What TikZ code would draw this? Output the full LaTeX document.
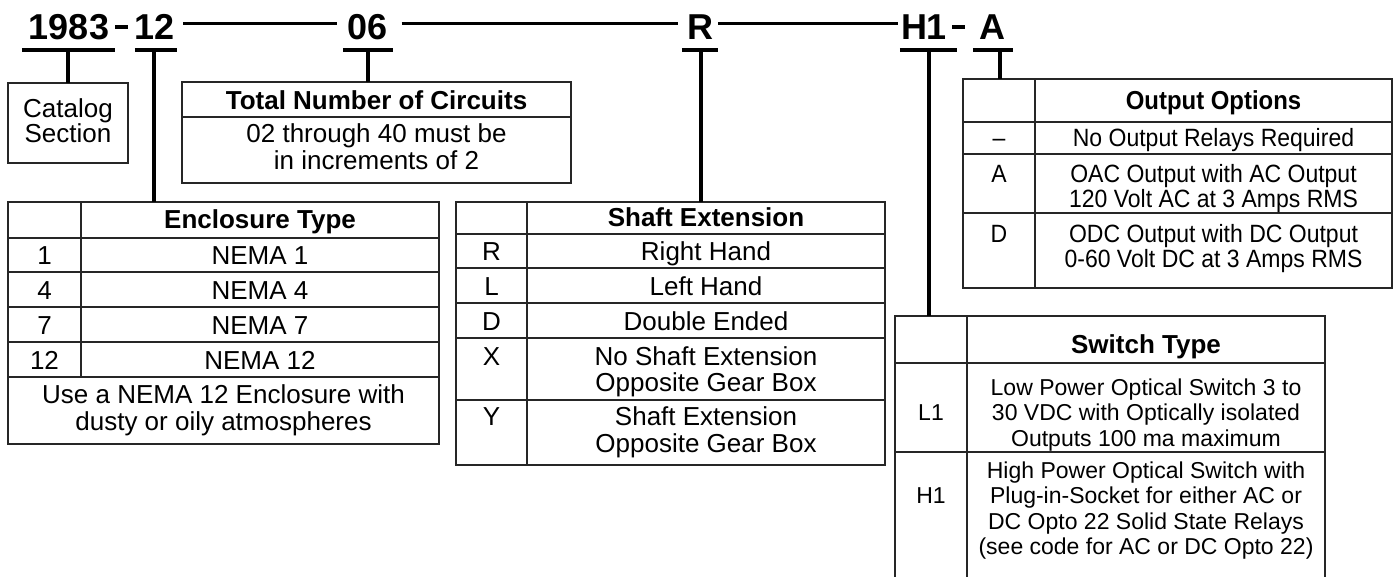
\documentclass[tikz,border=0pt]{standalone}
\usepackage{fontspec}
\setmainfont{Liberation Sans}
\newfontfamily\condfont[FakeStretch=0.92]{Liberation Sans}
\newcommand\mlines[1]{\vtop{\lineskiplimit=-100pt\relax\lineskip=0pt\relax\halign{\hfil##\hfil\cr#1\crcr}}}
\begin{document}
\begin{tikzpicture}[x=1pt,y=-1pt,
  code/.style={font=\fontsize{36}{36}\selectfont\bfseries, inner sep=0pt, anchor=base, text height=26pt, text depth=0pt},
  hline/.style={line width=3pt},
  hyph/.style={line width=3.5pt},
  barline/.style={line width=4pt},
  vline/.style={line width=4pt},
  tbl/.style={draw=black!85, line width=1.2pt, inner sep=0pt, outer sep=0pt, anchor=north west},
  grid/.style={draw=black!85, line width=1.1pt},
  txt/.style={inner sep=0pt, anchor=base, font=\fontsize{26}{27}\selectfont},
  hdr/.style={inner sep=0pt, anchor=base, font=\fontsize{26}{27}\selectfont\bfseries},
  otxt/.style={inner sep=0pt, anchor=base, font=\condfont\fontsize{25}{24.5}\selectfont},
  ohdr/.style={inner sep=0pt, anchor=base, font=\condfont\bfseries\fontsize{26}{26}\selectfont},
  stxt/.style={inner sep=0pt, anchor=base, font=\fontsize{23}{25.5}\selectfont},
]
\useasboundingbox (0,0) rectangle (1396,577);
\clip (0,0) rectangle (1396,577);

% ---------- header codes ----------
\node[code] (n1983) at (69,40) {1983};
\node[code] (n12) at (155,40) {12};
\node[code] (n06) at (367.5,40) {06};
\node[code] (nR) at (700,40) {R};
\node[code] (nH1) at (924,40) {H1};
\node[code] (nA) at (992,40) {A};

\draw[hyph] ([xshift=6pt]n1983.east) -- ([xshift=-7pt]n12.west);
\draw[hline] ([xshift=8pt,yshift=3pt]n12.east) -- ([xshift=-10pt,yshift=3pt]n06.west);
\draw[hline] ([xshift=14pt,yshift=3pt]n06.east) -- ([xshift=-9pt,yshift=3pt]nR.west);
\draw[hline] ([xshift=5pt,yshift=3pt]nR.east) -- ([xshift=-3pt,yshift=3pt]nH1.west);
\draw[hyph] ([xshift=5pt]nH1.east) -- ([xshift=-14pt]nA.west);

% underline bars
\draw[barline] ([xshift=-7pt,yshift=-10pt]n1983.south west) -- ([xshift=6pt,yshift=-10pt]n1983.south east);
\draw[barline] ([xshift=0pt,yshift=-10pt]n12.south west) -- ([xshift=2pt,yshift=-10pt]n12.south east);
\draw[barline] ([xshift=-4.5pt,yshift=-10pt]n06.south west) -- ([xshift=5.5pt,yshift=-10pt]n06.south east);
\draw[barline] ([xshift=-5pt,yshift=-10pt]nR.south west) -- ([xshift=5pt,yshift=-10pt]nR.south east);
\draw[barline] ([xshift=-1pt,yshift=-10pt]nH1.south west) -- ([xshift=10pt,yshift=-10pt]nH1.south east);
\draw[barline] ([xshift=-6pt,yshift=-10pt]nA.south west) -- ([xshift=8pt,yshift=-10pt]nA.south east);

% ---------- Catalog Section ----------
\node[tbl, minimum width=120pt, minimum height=80pt] (cat) at (8,83) {};
\node[txt, font=\fontsize{26}{25}\selectfont] (catT) at (68,118) {\mlines{Catalog\cr Section}};

% ---------- Total Number of Circuits ----------
\node[tbl, minimum width=389pt, minimum height=101pt] (circ) at (182,82) {};
\draw[grid] (182,117) -- (571,117);
\node[hdr] (circH) at (376.5,110) {Total Number of Circuits};
\node[txt] (circT) at (376.5,143) {\mlines{02 through 40 must be\cr in increments of 2}};

% ---------- Enclosure Type ----------
\node[tbl, minimum width=431pt, minimum height=242pt] (encl) at (8,202) {};
\draw[grid] (81,202) -- (81,377);
\foreach \yy in {238,272,307,342,377} \draw[grid] (8,\yy) -- (439,\yy);
\node[hdr] (enclH) at (260,229) {Enclosure Type};
\node[txt] (e1c) at (44.5,264) {1};
\node[txt] (e1t) at (260,264) {NEMA 1};
\node[txt] (e2c) at (44.5,299) {4};
\node[txt] (e2t) at (260,299) {NEMA 4};
\node[txt] (e3c) at (44.5,334) {7};
\node[txt] (e3t) at (260,334) {NEMA 7};
\node[txt] (e4c) at (44.5,369) {12};
\node[txt] (e4t) at (260,369) {NEMA 12};
\node[txt] (enote) at (223.5,403) {\mlines{Use a NEMA 12 Enclosure with\cr dusty or oily atmospheres}};

% ---------- Shaft Extension ----------
\node[tbl, minimum width=429pt, minimum height=263pt] (shaft) at (456,202) {};
\draw[grid] (527,202) -- (527,465);
\foreach \yy in {234,268,303,338,400} \draw[grid] (456,\yy) -- (885,\yy);
\node[hdr] (shH) at (706,227) {Shaft Extension};
\node[txt] (s1c) at (491.5,260) {R};
\node[txt] (s1t) at (706,260) {Right Hand};
\node[txt] (s2c) at (491.5,295) {L};
\node[txt] (s2t) at (706,295) {Left Hand};
\node[txt] (s3c) at (491.5,330) {D};
\node[txt] (s3t) at (706,330) {Double Ended};
\node[txt] (s4c) at (491.5,365) {X};
\node[txt, font=\fontsize{26}{26}\selectfont] (s4t) at (706,365) {\mlines{No Shaft Extension\cr Opposite Gear Box}};
\node[txt] (s5c) at (491.5,425) {Y};
\node[txt] (s5t) at (706,425) {\mlines{Shaft Extension\cr Opposite Gear Box}};

% ---------- Output Options ----------
\node[tbl, minimum width=429pt, minimum height=209pt] (outp) at (963,79) {};
\draw[grid] (1035,79) -- (1035,288);
\foreach \yy in {122,154,213} \draw[grid] (963,\yy) -- (1392,\yy);
\node[ohdr] (outH) at (1213.5,110) {Output Options};
\node[otxt] (o1c) at (999,147) {–};
\node[otxt] (o1t) at (1213.5,147) {No Output Relays Required};
\node[otxt] (o2c) at (999,183) {A};
\node[otxt] (o2t) at (1213.5,183) {\mlines{OAC Output with AC Output\cr 120 Volt AC at 3 Amps RMS}};
\node[otxt] (o3c) at (999,243) {D};
\node[otxt] (o3t) at (1213.5,243) {\mlines{ODC Output with DC Output\cr 0-60 Volt DC at 3 Amps RMS}};

% ---------- Switch Type ----------
\node[tbl, minimum width=430pt, minimum height=300pt] (sw) at (895,316) {};
\draw[grid] (967,316) -- (967,616);
\foreach \yy in {363,452} \draw[grid] (895,\yy) -- (1325,\yy);
\node[hdr] (swH) at (1146,353) {Switch Type};
\node[stxt] (w1c) at (931,420) {L1};
\node[stxt] (w1t) at (1146,395) {\mlines{Low Power Optical Switch 3 to\cr 30 VDC with Optically isolated\cr Outputs 100 ma maximum}};
\node[stxt] (w2c) at (931,503) {H1};
\node[stxt] (w2t) at (1146,478) {\mlines{High Power Optical Switch with\cr Plug-in-Socket for either AC or\cr DC Opto 22 Solid State Relays\cr (see code for AC or DC Opto 22)}};

% ---------- vertical connectors ----------
\draw[vline] ([xshift=-1pt,yshift=-10pt]n1983.south) -- ([xshift=-1pt]n1983.south |- cat.north);
\draw[vline] ([xshift=-1pt,yshift=-10pt]n12.south) -- ([xshift=-1pt]n12.south |- encl.north);
\draw[vline] ([xshift=0.5pt,yshift=-10pt]n06.south) -- ([xshift=0.5pt]n06.south |- circ.north);
\draw[vline] ([xshift=1pt,yshift=-10pt]nR.south) -- ([xshift=1pt]nR.south |- shaft.north);
\draw[vline] ([xshift=5pt,yshift=-10pt]nH1.south) -- ([xshift=5pt]nH1.south |- sw.north);
\draw[vline] ([xshift=8pt,yshift=-10pt]nA.south) -- ([xshift=8pt]nA.south |- outp.north);
\end{tikzpicture}
\end{document}
